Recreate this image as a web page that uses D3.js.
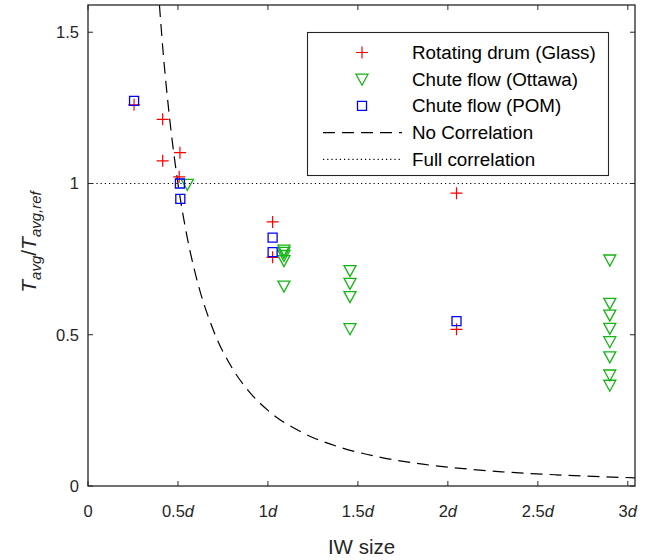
<!DOCTYPE html>
<meta charset="utf-8">
<style>
  body { margin: 0; background: #fff; }
  text { font-family: "Liberation Sans", Arial, sans-serif; fill: #262626; }
</style>
<svg width="649" height="560" id="chart"></svg>
<script src="https://d3js.org/d3.v7.min.js"></script>
<script>

// x in units of d, y = Tavg / Tavg,ref
var drumX  = [0.256, 0.415, 0.511, 0.415, 0.507, 1.026, 1.026, 2.048, 2.048]
var drumY  = [1.26, 1.212, 1.102, 1.075, 1.022, 0.873, 0.756, 0.968, 0.518]

var ottawaX = [0.552, 1.089, 1.089, 1.089, 1.089, 1.089, 1.456, 1.456, 1.456, 1.456,
               2.90, 2.90, 2.90, 2.90, 2.90, 2.90, 2.90, 2.90]
var ottawaY = [0.997, 0.78, 0.772, 0.762, 0.745, 0.661, 0.712, 0.670, 0.626, 0.520,
               0.747, 0.604, 0.565, 0.521, 0.477, 0.427, 0.367, 0.333]

var pomX = [0.256, 0.511, 0.513, 1.026, 1.026, 2.048]
var pomY = [1.273, 1.0, 0.949, 0.821, 0.773, 0.545]

// dashed "no correlation" curve
var noCorrX = [0.397, 0.42, 0.45, 0.5, 0.55, 0.6, 0.7, 0.8, 0.9, 1.0, 1.2, 1.4, 1.6, 1.8, 2.0, 2.3, 2.6, 3.04]
var noCorrY = [1.59, 1.417, 1.235, 1.0, 0.826, 0.694, 0.510, 0.391, 0.309, 0.25, 0.174, 0.128, 0.098, 0.077, 0.0625, 0.047, 0.037, 0.027]

var fullCorrY = 1

var xTicks = [0, 0.5, 1, 1.5, 2, 2.5, 3]
var xTickNum = ["0", "0.5", "1", "1.5", "2", "2.5", "3"]
var yTicks = [0, 0.5, 1, 1.5]
var yTickLabels = ["0", "0.5", "1", "1.5"]

var legendLabels = ["Rotating drum (Glass)", "Chute flow (Ottawa)", "Chute flow (POM)", "No Correlation", "Full correlation"]

var pL = 88, pR = 635, pT = 5, pB = 486
var red = "#ff0000", green = "#14b414", blue = "#0000ff", axisCol = "#262626"

var svg = d3.select("#chart")

var x = d3.scaleLinear().domain([0, 3.04]).range([pL, pR])
var y = d3.scaleLinear().domain([0, 1.59]).range([pB, pT])

svg.append("clipPath").attr("id", "clip")
  .append("rect").attr("x", pL).attr("y", pT).attr("width", pR - pL).attr("height", pB - pT)

var plot = svg.append("g").attr("clip-path", "url(#clip)")

// full correlation line
plot.append("line")
  .attr("x1", pL).attr("x2", pR)
  .attr("y1", y(fullCorrY)).attr("y2", y(fullCorrY))
  .attr("stroke", "#000").attr("stroke-width", 1.2)
  .attr("stroke-dasharray", "1.2,3")

// no correlation curve
var pts = noCorrX.map(function(d, i) { return [d, noCorrY[i]] })
plot.append("path")
  .attr("d", d3.line().x(d => x(d[0])).y(d => y(d[1])).curve(d3.curveMonotoneX)(pts))
  .attr("fill", "none").attr("stroke", "#000").attr("stroke-width", 1.2)
  .attr("stroke-dasharray", "12,7")

function plusPath(s) { return "M" + (-s) + ",0H" + s + "M0," + (-s) + "V" + s }
function triPath() { return "M-6,-5L6,-5L0,6Z" }
function sqPath() { return "M-4.5,-4.5H4.5V4.5H-4.5Z" }

var marks = svg.append("g")

marks.selectAll(".drum").data(drumX).enter().append("path")
  .attr("class", "drum")
  .attr("transform", (d, i) => "translate(" + x(d) + "," + y(drumY[i]) + ")")
  .attr("d", plusPath(6))
  .attr("stroke", red).attr("stroke-width", 1.2).attr("fill", "none")

marks.selectAll(".ottawa").data(ottawaX).enter().append("path")
  .attr("class", "ottawa")
  .attr("transform", (d, i) => "translate(" + x(d) + "," + y(ottawaY[i]) + ")")
  .attr("d", triPath())
  .attr("stroke", green).attr("stroke-width", 1.3).attr("fill", "none")

marks.selectAll(".pom").data(pomX).enter().append("path")
  .attr("class", "pom")
  .attr("transform", (d, i) => "translate(" + x(d) + "," + y(pomY[i]) + ")")
  .attr("d", sqPath())
  .attr("stroke", blue).attr("stroke-width", 1.3).attr("fill", "none")

// axes box
var ax = svg.append("g")
ax.append("rect").attr("x", pL).attr("y", pT).attr("width", pR - pL).attr("height", pB - pT)
  .attr("fill", "none").attr("stroke", axisCol).attr("stroke-width", 1.3)

xTicks.forEach(function(t) {
  ax.append("line").attr("x1", x(t)).attr("x2", x(t)).attr("y1", pB).attr("y2", pB - 5).attr("stroke", axisCol)
  ax.append("line").attr("x1", x(t)).attr("x2", x(t)).attr("y1", pT).attr("y2", pT + 5).attr("stroke", axisCol)
})
yTicks.forEach(function(t) {
  ax.append("line").attr("x1", pL).attr("x2", pL + 5).attr("y1", y(t)).attr("y2", y(t)).attr("stroke", axisCol)
  ax.append("line").attr("x1", pR).attr("x2", pR - 5).attr("y1", y(t)).attr("y2", y(t)).attr("stroke", axisCol)
})

ax.selectAll(".xl").data(xTicks).enter().append("text")
  .attr("class", "xl")
  .attr("x", d => x(d)).attr("y", 517)
  .attr("text-anchor", "middle").style("font-size", "16.5px")
  .each(function(d, i) {
    var t = d3.select(this)
    t.append("tspan").text(xTickNum[i])
    if (d !== 0) t.append("tspan").attr("font-style", "italic").text("d")
  })

ax.selectAll(".yl").data(yTicks).enter().append("text")
  .attr("class", "yl")
  .attr("x", 79).attr("y", d => y(d)).attr("dy", "0.35em")
  .attr("text-anchor", "end").style("font-size", "16.5px")
  .text((d, i) => yTickLabels[i])

svg.append("text").attr("x", (pL + pR) / 2).attr("y", 554)
  .attr("text-anchor", "middle").style("font-size", "20.5px").text("IW size")

var yl = svg.append("text").attr("transform", "translate(36,242) rotate(-90)")
  .attr("text-anchor", "middle").style("font-size", "21px").attr("font-style", "italic")
yl.append("tspan").text("T")
yl.append("tspan").style("font-size", "15px").attr("dy", 5).text("avg")
yl.append("tspan").attr("dy", -5).attr("font-style", "normal").text("/")
yl.append("tspan").text("T")
yl.append("tspan").style("font-size", "15px").attr("dy", 5).text("avg,ref")

// legend
var lg = svg.append("g")
lg.append("rect").attr("x", 307.5).attr("y", 32.5).attr("width", 301).attr("height", 143)
  .attr("fill", "#fff").attr("stroke", axisCol).attr("stroke-width", 1.1)

var rowY = d3.scaleLinear().domain([0, 4]).range([52.5, 159.3])

lg.selectAll(".lt").data(legendLabels).enter().append("text")
  .attr("class", "lt")
  .attr("x", 412).attr("y", (d, i) => rowY(i)).attr("dy", "0.35em")
  .style("font-size", "18.8px").style("fill", "#000").text(d => d)

lg.append("path").attr("transform", "translate(362," + rowY(0) + ")").attr("d", plusPath(6))
  .attr("stroke", red).attr("stroke-width", 1.2).attr("fill", "none")
lg.append("path").attr("transform", "translate(362," + rowY(1) + ")").attr("d", triPath())
  .attr("stroke", green).attr("stroke-width", 1.3).attr("fill", "none")
lg.append("path").attr("transform", "translate(362," + rowY(2) + ")").attr("d", sqPath())
  .attr("stroke", blue).attr("stroke-width", 1.3).attr("fill", "none")
lg.append("line").attr("x1", 323).attr("x2", 402).attr("y1", rowY(3)).attr("y2", rowY(3))
  .attr("stroke", "#000").attr("stroke-width", 1.2).attr("stroke-dasharray", "12,7")
lg.append("line").attr("x1", 323).attr("x2", 402).attr("y1", rowY(4)).attr("y2", rowY(4))
  .attr("stroke", "#000").attr("stroke-width", 1.2).attr("stroke-dasharray", "1.2,3")

</script>
